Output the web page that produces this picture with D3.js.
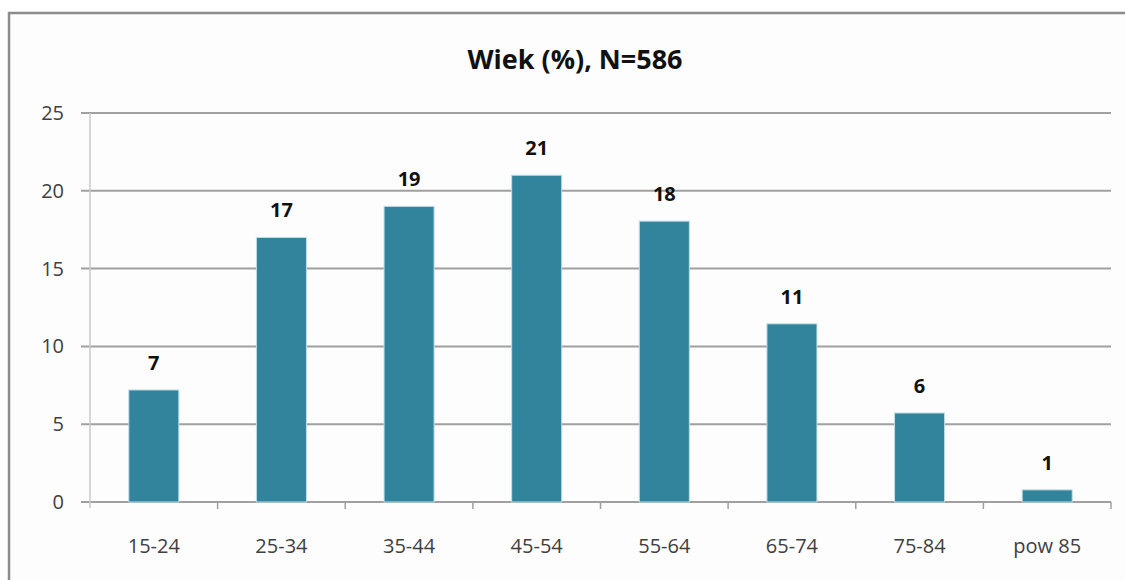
<!DOCTYPE html>
<html><head><meta charset="utf-8">
<script src="https://cdn.jsdelivr.net/npm/d3@7"></script>
<style>
html,body{margin:0;padding:0;background:#fff;}
svg{display:block;}
</style></head>
<body>
<svg id="chart" width="1125" height="580"></svg>
<script>
const categories = ["15-24","25-34","35-44","45-54","55-64","65-74","75-84","pow 85"];
const values = [7.2, 17.0, 19.0, 21.0, 18.05, 11.45, 5.72, 0.78];
const yTicks = [0, 5, 10, 15, 20, 25];
const title = "Wiek (%), N=586";

const svg = d3.select("#chart");
const W = 1125, H = 580;
const font = "'Open Sans', Lato, sans-serif";

// background + frame
svg.append("rect").attr("x",0).attr("y",0).attr("width",W).attr("height",H).attr("fill","#fff");
svg.append("rect").attr("x",9).attr("y",13).attr("width",W+20).attr("height",H+20)
  .attr("fill","#fdfdfd").attr("stroke","#8c8c8c").attr("stroke-width",2.5);

const plot = {left:90, right:1111, top:113, bottom:502};
const x = d3.scaleBand().domain(categories).range([plot.left, plot.right]).paddingInner(0.608).paddingOuter(0.304);
const y = d3.scaleLinear().domain([0,25]).range([plot.bottom, plot.top]);

// gridlines
svg.append("g").selectAll("line").data(yTicks).join("line")
  .attr("x1", plot.left - 9).attr("x2", plot.right)
  .attr("y1", d => y(d)).attr("y2", d => y(d))
  .attr("stroke", "#a0a0a0").attr("stroke-width", 2);

// y axis line
svg.append("line").attr("x1",plot.left).attr("x2",plot.left)
  .attr("y1",plot.top).attr("y2",plot.bottom+6)
  .attr("stroke","#c8c8c8").attr("stroke-width",1.5);

// y tick labels
const yAxis = d3.axisLeft(y).tickValues(yTicks).tickSize(0).tickPadding(0);
const gy = svg.append("g").attr("transform",`translate(${plot.left-26},0)`).call(yAxis);
gy.select(".domain").remove();
gy.selectAll("text").attr("font-family",font).attr("font-size",20).attr("fill","#404040");

// x axis ticks at category boundaries
const step = x.step();
const bounds = d3.range(categories.length + 1).map(i => plot.left + i*step);
svg.append("g").selectAll("line").data(bounds.slice(1)).join("line")
  .attr("x1", d => d).attr("x2", d => d)
  .attr("y1", plot.bottom).attr("y2", plot.bottom + 7)
  .attr("stroke", "#a0a0a0").attr("stroke-width", 1.5);

// x labels
const xAxis = d3.axisBottom(x).tickSize(0).tickPadding(0);
const gx = svg.append("g").attr("transform",`translate(0,${plot.bottom+44})`).call(xAxis);
gx.select(".domain").remove();
gx.selectAll("text").attr("font-family",font).attr("font-size",20).attr("fill","#404040").attr("dy","0.35em");

// bars
svg.append("g").selectAll("rect").data(values).join("rect")
  .attr("x",(d,i)=>x(categories[i]))
  .attr("y",d=>y(d))
  .attr("width",x.bandwidth())
  .attr("height",d=>y(0)-y(d))
  .attr("fill","#31849b")
  .attr("stroke","#bfdde6").attr("stroke-width",1);

// value labels
svg.append("g").selectAll("text").data(values).join("text")
  .attr("x",(d,i)=>x(categories[i]) + x.bandwidth()/2)
  .attr("y",d=>y(d) - 20)
  .attr("text-anchor","middle")
  .attr("font-family",font).attr("font-weight","bold").attr("font-size",20).attr("fill","#111")
  .text(d=>Math.round(d));

// title
svg.append("text").attr("x",575).attr("y",69).attr("text-anchor","middle")
  .attr("font-family",font).attr("font-weight","bold").attr("font-size",27).attr("fill","#111")
  .text(title);
</script>
</body></html>
